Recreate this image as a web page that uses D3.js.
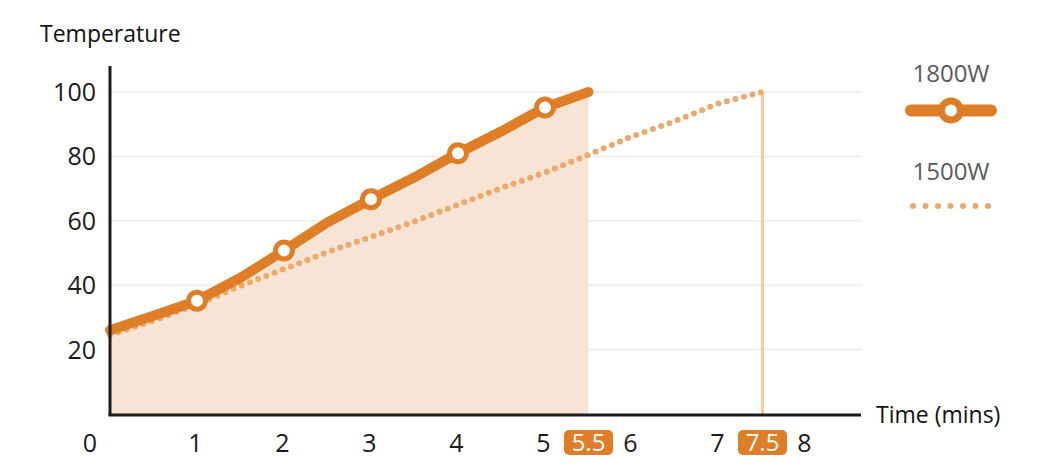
<!DOCTYPE html>
<html><head><meta charset="utf-8">
<script src="https://cdn.jsdelivr.net/npm/d3@7"></script>
<style>
html,body{margin:0;padding:0;background:#fff;}
svg text{font-family:"Open Sans","Noto Sans",sans-serif;}
</style></head>
<body><svg id="c" width="1052" height="475"></svg>
<script>
// data
const times = [0,0.5,1,1.5,2,2.5,3,3.5,4,4.5,5,5.5];
const temp1800 = [26,30.5,35.2,42.3,50.8,59.5,66.7,73.5,81,87.8,95.2,100];
const markerTimes = [1,2,3,4,5];
const times1500 = [0,0.5,1,1.5,2,2.5,3,3.5,4,4.5,5,5.5,6,6.5,7,7.5];
const temp1500 = [24.5,29,34,39.8,45,50.3,55,59.8,65,70.2,75,80.5,86.2,91,96.5,100];
const xTicks = [0,1,2,3,4,5,6,7,8];
const yTicks = [20,40,60,80,100];
const highlights = [5.5,7.5];
const seriesNames = ["1800W","1500W"];

const orange = "#e07e27", dotCol = "#eba96c", areaCol = "#f7e4d4";
const svg = d3.select("#c");
const x = d3.scaleLinear().domain([0,8]).range([110,806]);
const y = d3.scaleLinear().domain([0,100]).range([414,92]);
const xEnd = 861, yTop = 66;

// gridlines
svg.append("g").selectAll("line").data(yTicks).join("line")
  .attr("x1",111).attr("x2",862).attr("y1",d=>y(d)).attr("y2",d=>y(d))
  .attr("stroke","#efefef").attr("stroke-width",2);

// area under 1800W
const pts1800 = times.map((t,i)=>[t,temp1800[i]]);
svg.append("path").datum(pts1800)
  .attr("d", d3.area().x(d=>x(d[0])).y0(y(0)).y1(d=>y(d[1])))
  .attr("fill",areaCol);

// vertical line at 7.5
svg.append("line").attr("x1",x(7.5)).attr("x2",x(7.5)).attr("y1",y(100)).attr("y2",y(0))
  .attr("stroke","#f3cba6").attr("stroke-width",3);

// 1500W dotted
const pts1500 = times1500.map((t,i)=>[t,temp1500[i]]);
svg.append("path").datum(pts1500)
  .attr("d", d3.line().x(d=>x(d[0])).y(d=>y(d[1])))
  .attr("fill","none").attr("stroke",dotCol).attr("stroke-width",6)
  .attr("stroke-linecap","round").attr("stroke-dasharray","0 8.8");

// 1800W line
svg.append("path").datum(pts1800)
  .attr("d", d3.line().x(d=>x(d[0])).y(d=>y(d[1])))
  .attr("fill","none").attr("stroke",orange).attr("stroke-width",10)
  .attr("stroke-linecap","round").attr("stroke-linejoin","round");

svg.append("g").selectAll("circle").data(markerTimes).join("circle")
  .attr("cx",d=>x(d)).attr("cy",d=>y(temp1800[times.indexOf(d)]))
  .attr("r",8.5).attr("fill","#fff").attr("stroke",orange).attr("stroke-width",5);

// axes
svg.append("line").attr("x1",x(0)).attr("x2",x(0)).attr("y1",yTop).attr("y2",y(0)+1.5)
  .attr("stroke","#1c1c1c").attr("stroke-width",3);
svg.append("line").attr("x1",x(0)-1.5).attr("x2",xEnd).attr("y1",y(0)+1).attr("y2",y(0)+1)
  .attr("stroke","#1c1c1c").attr("stroke-width",3);

// y tick labels
svg.append("g").selectAll("text").data(yTicks).join("text")
  .attr("x",96).attr("y",d=>y(d)).attr("dy","0.36em").attr("text-anchor","end")
  .attr("font-size",25).attr("fill","#1a1a1a").text(d=>d);

// x tick labels
svg.append("g").selectAll("text").data(xTicks).join("text")
  .attr("x",d=> d===0 ? x(d)-20 : x(d)-1.5).attr("y",452).attr("text-anchor","middle")
  .attr("font-size",25).attr("fill","#1a1a1a").text(d=>d);

// highlight badges
const hb = svg.append("g").selectAll("g").data(highlights).join("g")
  .attr("transform",d=>`translate(${x(d)},0)`);
hb.append("rect").attr("x",-24.5).attr("y",430).attr("width",49).attr("height",25)
  .attr("rx",5).attr("fill",orange);
hb.append("text").attr("x",0).attr("y",451).attr("text-anchor","middle")
  .attr("font-size",24).attr("fill","#fff").text(d=>d);

// axis titles
svg.append("text").attr("x",40).attr("y",42).attr("font-size",23).attr("fill","#111").text("Temperature");
svg.append("text").attr("x",876).attr("y",423).attr("font-size",23).attr("fill","#111").text("Time (mins)");

// legend
const lg = svg.append("g");
lg.append("text").attr("x",951).attr("y",82).attr("text-anchor","middle")
  .attr("font-size",24).attr("fill","#5a5a5a").text(seriesNames[0]);
lg.append("line").attr("x1",911).attr("x2",991).attr("y1",110.5).attr("y2",110.5)
  .attr("stroke",orange).attr("stroke-width",12).attr("stroke-linecap","round");
lg.append("circle").attr("cx",951).attr("cy",110.5).attr("r",9.5)
  .attr("fill","#fff").attr("stroke",orange).attr("stroke-width",7);
lg.append("text").attr("x",951).attr("y",180).attr("text-anchor","middle")
  .attr("font-size",24).attr("fill","#5a5a5a").text(seriesNames[1]);
lg.append("line").attr("x1",913).attr("x2",988.5).attr("y1",206).attr("y2",206)
  .attr("stroke",dotCol).attr("stroke-width",6).attr("stroke-linecap","round")
  .attr("stroke-dasharray","0 12.5");
</script></body></html>
